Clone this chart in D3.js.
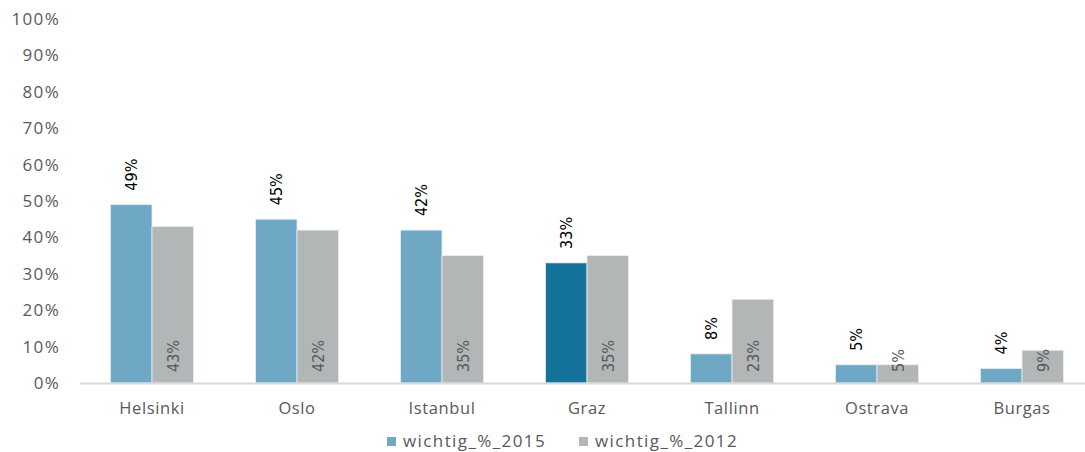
<!DOCTYPE html>
<html>
<head>
<meta charset="utf-8">
<script src="https://cdn.jsdelivr.net/npm/d3@7"></script>
<style>
  body { margin: 0; background: #fff; }
  .axis text { font-family: "Open Sans", sans-serif; fill: #595959; }
  .yaxis text { font-size: 17px; letter-spacing: 1.3px; }
  .xaxis text { font-size: 16.5px; letter-spacing: 0.6px; }
  .val { font-family: "Liberation Sans Narrow", "DejaVu Sans Condensed", sans-serif; font-size: 16px; }
  .legend text { font-family: "Open Sans", sans-serif; font-size: 17px; letter-spacing: 1.4px; fill: #595959; }
</style>
</head>
<body>
<svg id="chart" width="1085" height="452"></svg>
<script>
const CITIES = ["Helsinki", "Oslo", "Istanbul", "Graz", "Tallinn", "Ostrava", "Burgas"];
const SERIES = ["wichtig_%_2015", "wichtig_%_2012"];
const VALUES_2015 = [49, 45, 42, 33, 8, 5, 4];
const VALUES_2012 = [43, 42, 35, 35, 23, 5, 9];
const Y_TICKS = [0, 10, 20, 30, 40, 50, 60, 70, 80, 90, 100];

const COLORS = { "wichtig_%_2015": "#6fa8c4", "wichtig_%_2012": "#b3b6b7" };
const HIGHLIGHT = "Graz";
const HIGHLIGHT_COLOR = "#13729a";

const M = { left: 79.5, right: 1094.5, top: 19, bottom: 383 };

const svg = d3.select("#chart");

var x0 = d3.scaleBand().domain(CITIES).range([M.left, M.right]);
var x1 = d3.scaleBand().domain(SERIES).range([31, 114]);
var y = d3.scaleLinear().domain([0, 100]).range([M.bottom, M.top]);

// y axis labels only
svg.append("g")
   .attr("class", "axis yaxis")
   .attr("transform", "translate(60,0)")
   .call(d3.axisLeft(y).tickValues(Y_TICKS).tickFormat((d) => d + "%").tickSize(0).tickPadding(0))
   .call((g) => g.select(".domain").remove());

var rows = CITIES.map((c, i) => ({
    city: c,
    vals: [{s: SERIES[0], v: VALUES_2015[i]}, {s: SERIES[1], v: VALUES_2012[i]}]
}));

var groups = svg.append("g")
                .selectAll("g.city")
                .data(rows)
                .enter()
                .append("g")
                .classed("city", true)
                .attr("transform", (d) => "translate(" + x0(d.city) + ",0)");

groups.selectAll("rect")
      .data((d) => d.vals.map((e) => ({...e, city: d.city})))
      .enter()
      .append("rect")
      .attr("x", (d) => x1(d.s))
      .attr("y", (d) => y(d.v))
      .attr("width", x1.bandwidth())
      .attr("height", (d) => y(0) - y(d.v))
      .attr("fill", (d) => (d.s === SERIES[0] && d.city === HIGHLIGHT) ? HIGHLIGHT_COLOR : COLORS[d.s])
      .attr("stroke", "#e6eef2")
      .attr("stroke-width", 0.8);

// 2015 labels above the bar
groups.append("text")
      .classed("val", true)
      .attr("transform", (d) => "translate(" + (x1(SERIES[0]) + x1.bandwidth() / 2 + 6) + "," + (y(d.vals[0].v) - 14) + ") rotate(-90)")
      .attr("fill", "#000")
      .text((d) => d.vals[0].v + "%");

// 2012 labels at the foot of the bar
groups.append("text")
      .classed("val", true)
      .attr("transform", "translate(" + (x1(SERIES[1]) + x1.bandwidth() / 2 + 6) + "," + (y(0) - 11) + ") rotate(-90)")
      .attr("fill", "#595959")
      .text((d) => d.vals[1].v + "%");

// baseline + category labels
var xAxis = svg.append("g")
   .attr("class", "axis xaxis")
   .attr("transform", "translate(0," + M.bottom + ")")
   .call(d3.axisBottom(x0).tickSize(0).tickPadding(19).tickSizeOuter(0));
xAxis.select(".domain").attr("stroke", "#d9d9d9").attr("stroke-width", 2);

// legend
var legendX = [387, 579];
var legend = svg.append("g").classed("legend", true);
var items = legend.selectAll("g")
                  .data(SERIES)
                  .enter()
                  .append("g")
                  .attr("transform", (d, i) => "translate(" + legendX[i] + ",437)");
items.append("rect")
     .attr("width", 9)
     .attr("height", 9)
     .attr("fill", (d) => COLORS[d]);
items.append("text")
     .attr("x", 16)
     .attr("y", 4.5)
     .attr("dy", "0.35em")
     .text((d) => d);
</script>
</body>
</html>
